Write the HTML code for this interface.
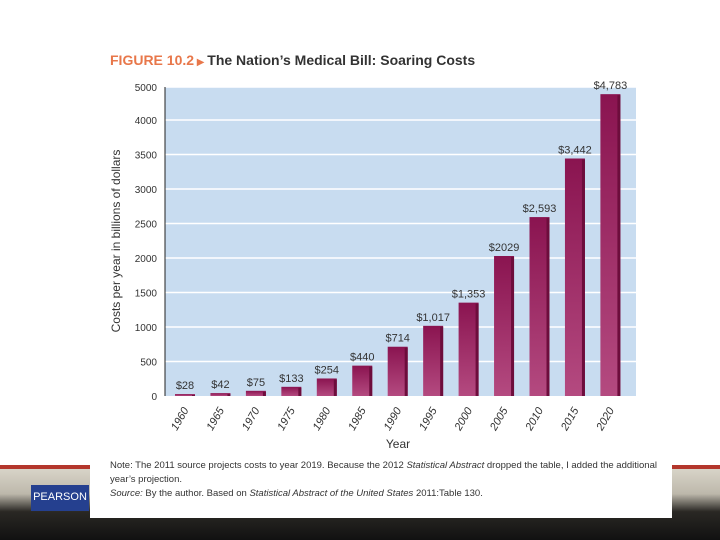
<!DOCTYPE html>
<html><head><meta charset="utf-8"><style>
body{margin:0;width:720px;height:540px;overflow:hidden;background:#fff;font-family:"Liberation Sans",sans-serif;position:relative}
.abs{position:absolute}
</style></head><body>
<div class="abs" style="left:0;top:465px;width:720px;height:4px;background:#b3362c"></div>
<div class="abs" style="left:0;top:469px;width:720px;height:71px;background:linear-gradient(#d8d4c8 0%,#bdb8ab 35%,#2a2824 60%,#111 100%)"></div>
<div class="abs" style="left:31px;top:485px;width:58px;height:26px;background:#25408f;color:#fff;font-size:11px;text-align:center;line-height:24px">PEARSON</div>
<div class="abs" style="left:90px;top:455px;width:582px;height:63px;background:#fff"></div>
<div class="abs" style="left:110px;top:52px;font-size:14px;color:#222"><span style="color:#e8774a;font-weight:bold">FIGURE 10.2</span><span style="color:#e8774a;font-size:10px"> ▶ </span><span style="font-weight:bold;color:#333">The Nation’s Medical Bill: Soaring Costs</span></div>
<svg class="abs" style="left:0;top:0" width="720" height="540" id="chart"></svg>
<div class="abs" style="left:110px;top:459px;font-size:9.5px;color:#333;line-height:14px;width:560px">Note: The 2011 source projects costs to year 2019. Because the 2012 <i>Statistical Abstract</i> dropped the table, I added the additional year’s projection.<br><i>Source:</i> By the author. Based on <i>Statistical Abstract of the United States</i> 2011:Table 130.</div>
<script>
const years=["1960","1965","1970","1975","1980","1985","1990","1995","2000","2005","2010","2015","2020"];
const costs=[28,42,75,133,254,440,714,1017,1353,2029,2593,3442,4783];
const labels=["$28","$42","$75","$133","$254","$440","$714","$1,017","$1,353","$2029","$2,593","$3,442","$4,783"];
const ticks=[0,500,1000,1500,2000,2500,3000,3500,4000,5000];
const NS="http://www.w3.org/2000/svg";
const svg=document.getElementById('chart');
const L=165,R=636,T=87,B=396;
function y(v){return v<=4000? B-v*(B-120)/4000 : 120-(v-4000)*33/1000;}
function x(i){return 185+i*35.45;}
function mk(t,a){const e=document.createElementNS(NS,t);for(const k in a)e.setAttribute(k,a[k]);svg.appendChild(e);return e;}
const defs=mk('defs',{});
defs.innerHTML='<linearGradient id="bg" x1="0" y1="0" x2="0" y2="1"><stop offset="0" stop-color="#8a1450"/><stop offset="1" stop-color="#b44a80"/></linearGradient>';
const bgr=mk('rect',{x:L,y:T,width:R-L,height:B-T,fill:'#c8dcf0'});


ticks.forEach(t=>{
  if(t>0){const g=mk('line',{x1:L,x2:R,y1:y(t),y2:y(t),stroke:'#fff','stroke-width':1.5});
  
  }
  const tx=mk('text',{x:157,y:y(t)+4,'text-anchor':'end','font-size':10,fill:'#333'});
  tx.textContent=t;
  
  
});
mk('line',{x1:L,x2:L,y1:T,y2:B,stroke:'#222','stroke-width':1});
costs.forEach((v,i)=>{
  const cx=x(i),w=20,top=y(v);
  const r=mk('rect',{x:cx-w/2,y:top,width:w,height:B-top,fill:'url(#bg)'});
  
  
  mk('rect',{x:cx+w/2-3,y:top+1,width:3,height:B-top-1,fill:'#6d0d3c'});
  const lb=mk('text',{x:cx,y:top-5,'text-anchor':'middle','font-size':11,fill:'#333'});
  lb.textContent=labels[i];
  
  
  const xl=mk('text',{x:cx+4,y:410,'text-anchor':'end','font-size':11,'font-style':'italic',fill:'#333',transform:`rotate(-60 ${cx+4} 410)`});
  xl.textContent=years[i];
  
  
});
const xt=mk('text',{x:398,y:448,'text-anchor':'middle','font-size':12,fill:'#333'});
xt.textContent='Year';


const yt=mk('text',{x:120,y:241,'text-anchor':'middle','font-size':12,fill:'#333',transform:'rotate(-90 120 241)'});
yt.textContent='Costs per year in billions of dollars';


</script>
</body></html>
